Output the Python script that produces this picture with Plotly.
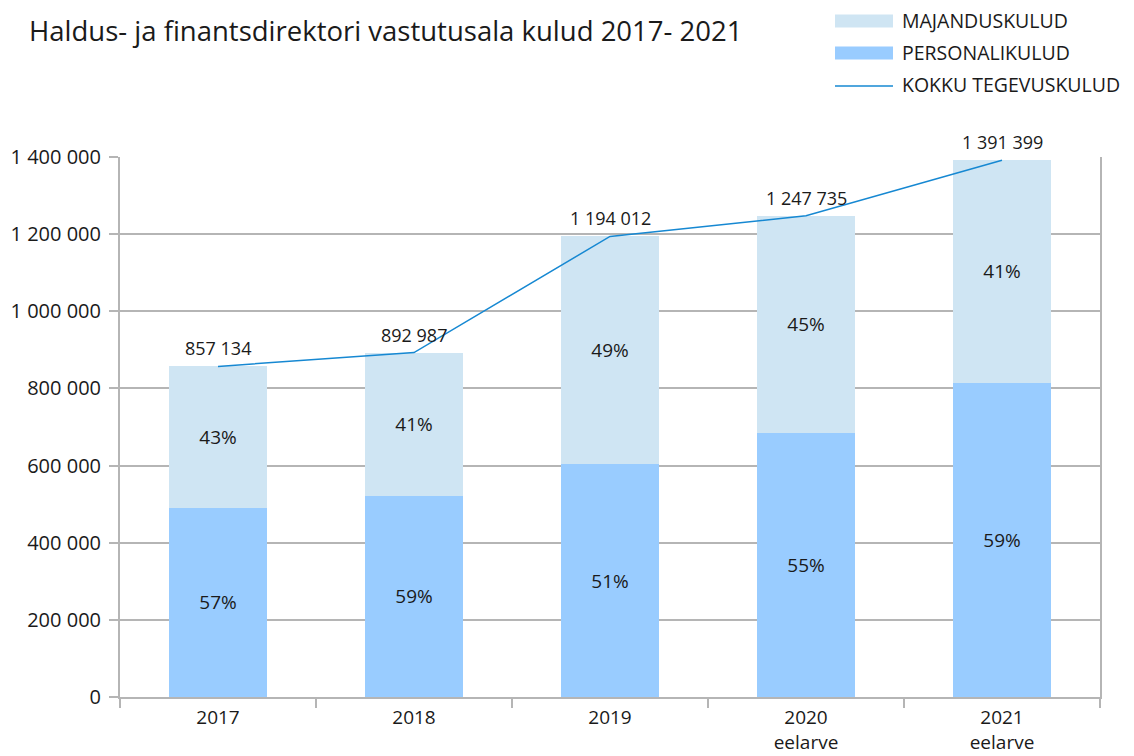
import plotly.graph_objects as go

# ---- data ----
years = ["2017", "2018", "2019", "2020<br>eelarve", "2021<br>eelarve"]
personalikulud = [491000, 522000, 604000, 685600, 815300]
majanduskulud = [366134, 370987, 590012, 562135, 576099]
kokku = [857134, 892987, 1194012, 1247735, 1391399]
pers_pct = ["57%", "59%", "51%", "55%", "59%"]
maj_pct = ["43%", "41%", "49%", "45%", "41%"]
kokku_labels = ["857 134", "892 987", "1 194 012", "1 247 735", "1 391 399"]
y_ticks = [0, 200000, 400000, 600000, 800000, 1000000, 1200000, 1400000]
y_tick_text = ["0", "200 000", "400 000", "600 000", "800 000", "1 000 000", "1 200 000", "1 400 000"]

C_LIGHT = "#cfe5f3"
C_DARK = "#99ccff"
C_LINE = "#1688d2"
C_GRID = "#b5b5b5"
FONT = "Open Sans"
TXT = "#1a1a1a"

OFF = 8  # default page body margin
W, H = 1134 - OFF, 756 - OFF
# plot area in screenshot pixels
L, R, T, B = 120, 1100, 157, 697

def px(xp):
    return (xp - L) / (R - L)

def py(yp):
    return (B - yp) / (B - T)

fig = go.Figure()
fig.add_trace(go.Bar(
    x=years, y=personalikulud, name="PERSONALIKULUD",
    marker=dict(color=C_DARK, line=dict(width=0)),
    text=pers_pct, textposition="inside", insidetextanchor="middle",
    textangle=0, textfont=dict(family=FONT, size=19, color=TXT),
    constraintext="none",
))
fig.add_trace(go.Bar(
    x=years, y=majanduskulud, name="MAJANDUSKULUD",
    marker=dict(color=C_LIGHT, line=dict(width=0)),
    text=maj_pct, textposition="inside", insidetextanchor="middle",
    textangle=0, textfont=dict(family=FONT, size=19, color=TXT),
    constraintext="none",
))
fig.add_trace(go.Scatter(
    x=years, y=kokku, name="KOKKU TEGEVUSKULUD",
    mode="lines", line=dict(color=C_LINE, width=1.5),
))

shapes = []
annotations = []
for i, (yv, lab) in enumerate(zip(kokku, kokku_labels)):
    # category axis: position by category index
    annotations.append(dict(x=i, y=yv, text=lab, xref="x", yref="y",
                            yshift=18, showarrow=False, xanchor="center", yanchor="middle",
                            font=dict(family=FONT, size=18, color=TXT)))

# manual legend
leg = [
    ("MAJANDUSKULUD", "rect", C_LIGHT, 21),
    ("PERSONALIKULUD", "rect", C_DARK, 53),
    ("KOKKU TEGEVUSKULUD", "line", C_LINE, 85),
]
for label, kind, col, yc in leg:
    if kind == "rect":
        shapes.append(dict(type="rect", xref="paper", yref="paper",
                           x0=px(835), x1=px(893), y0=py(yc + 6.5), y1=py(yc - 6.5),
                           fillcolor=col, line=dict(width=0), layer="above"))
    else:
        shapes.append(dict(type="line", xref="paper", yref="paper",
                           x0=px(835), x1=px(893), y0=py(yc + 1), y1=py(yc + 1),
                           line=dict(color=col, width=1.5), layer="above"))
    annotations.append(dict(text=label, xref="paper", yref="paper",
                            x=px(900), y=py(yc - 0.5), xanchor="left", yanchor="middle",
                            showarrow=False, font=dict(family=FONT, size=19.5, color=TXT)))

annotations.append(dict(text="Haldus- ja finantsdirektori vastutusala kulud 2017- 2021",
                        xref="paper", yref="paper", x=px(27), y=py(30),
                        xanchor="left", yanchor="middle", showarrow=False,
                        font=dict(family=FONT, size=27.5, color=TXT)))

fig.update_layout(
    width=W, height=H,
    margin=dict(l=L - OFF, r=W - (R - OFF), t=T - OFF, b=H - (B - OFF), pad=0, autoexpand=False),
    paper_bgcolor="white", plot_bgcolor="white",
    barmode="stack", bargap=0.5,
    showlegend=False,
    font=dict(family=FONT, size=20, color=TXT),
    shapes=shapes, annotations=annotations,
    xaxis=dict(
        type="category", showgrid=False, automargin=False,
        categoryorder="array", categoryarray=years,
        range=[-0.5, len(years) - 0.5],
        showline=True, linecolor=C_GRID, linewidth=2, mirror=False,
        ticks="outside", ticklen=9, tickwidth=2, tickcolor=C_GRID,
        tickson="boundaries", tickangle=0,
        ticklabelstandoff=2,
        tickfont=dict(family=FONT, size=19, color=TXT),
    ),
    yaxis=dict(
        range=[0, 1400000], tickvals=y_ticks, ticktext=y_tick_text,
        automargin=False,
        showgrid=True, gridcolor=C_GRID, gridwidth=2,
        showline=True, linecolor=C_GRID, linewidth=2, mirror=True,
        ticks="outside", ticklen=9, tickwidth=2, tickcolor=C_GRID,
        zeroline=False,
        tickfont=dict(family=FONT, size=20, color=TXT),
        ticklabelstandoff=4,
    ),
)

fig.write_html("out.html")
